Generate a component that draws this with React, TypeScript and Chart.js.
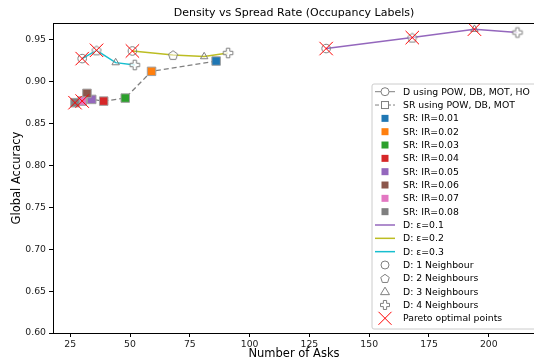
import React, { useEffect, useRef } from 'react';
import { Chart, registerables } from 'chart.js';
Chart.register(...registerables);

// ---- data ----
const titleText = 'Density vs Spread Rate (Occupancy Labels)';
const xLabel = 'Number of Asks';
const yLabel = 'Global Accuracy';

const xTicks = [25, 50, 75, 100, 125, 150, 175, 200];
const yTicks = [0.6, 0.65, 0.7, 0.75, 0.8, 0.85, 0.9, 0.95];

const epsLabels = ['D: ε=0.1', 'D: ε=0.2', 'D: ε=0.3'];
const epsColors = ['#9467bd', '#bcbd22', '#17becf'];
const neighbourLabels = ['D: 1 Neighbour', 'D: 2 Neighbours', 'D: 3 Neighbours', 'D: 4 Neighbours'];

const dEps01Asks = [132, 168, 194, 212];
const dEps01Acc = [0.9395, 0.9526, 0.9626, 0.9586];
const dEps02Asks = [51, 68, 81, 91];
const dEps02Acc = [0.9366, 0.9318, 0.9299, 0.9342];
const dEps03Asks = [30, 36, 44, 52];
const dEps03Acc = [0.9275, 0.9374, 0.9227, 0.9199];

const srLabels = ['SR: IR=0.01', 'SR: IR=0.02', 'SR: IR=0.03', 'SR: IR=0.04', 'SR: IR=0.05', 'SR: IR=0.06', 'SR: IR=0.07', 'SR: IR=0.08'];
const srColors = ['#1f77b4', '#ff7f0e', '#2ca02c', '#d62728', '#9467bd', '#8c564b', '#e377c2', '#7f7f7f'];
const srAsks = [86, 59, 48, 39, 34, 32, 30, 27];
const srAcc = [0.9246, 0.9123, 0.8804, 0.8768, 0.8788, 0.886, 0.8768, 0.8749];

const paretoAsks = [30, 36, 51, 132, 168, 194, 27, 30];
const paretoAcc = [0.9275, 0.9374, 0.9366, 0.9395, 0.9526, 0.9626, 0.8749, 0.8768];

const dLabel = 'D using POW, DB, MOT, HO';
const srLabel = 'SR using POW, DB, MOT';
const paretoLabel = 'Pareto optimal points';

const GRAY = '#808080';
const FONT = '"DejaVu Sans", sans-serif';

function drawPentagon(ctx: CanvasRenderingContext2D, cx: number, cy: number, r: number) {
  ctx.save();
  ctx.beginPath();
  for (let i = 0; i < 5; i++) {
    const a = -Math.PI / 2 + (i * 2 * Math.PI) / 5;
    const x = cx + r * Math.cos(a), y = cy + r * Math.sin(a);
    if (i === 0) ctx.moveTo(x, y); else ctx.lineTo(x, y);
  }
  ctx.closePath();
  ctx.fillStyle = 'rgba(255,255,255,0.5)';
  ctx.fill();
  ctx.strokeStyle = GRAY; ctx.lineWidth = 1;
  ctx.stroke();
  ctx.restore();
}
function makePentagon(r: number) {
  const size = Math.ceil(2 * r + 4);
  const c = document.createElement('canvas');
  c.width = size; c.height = size;
  drawPentagon(c.getContext('2d')!, size / 2, size / 2 + r * 0.1, r);
  return c;
}
function drawPlus(ctx: CanvasRenderingContext2D, cx: number, cy: number, r: number) {
  const w = r * 0.36;
  const pts = [[-w, -r], [w, -r], [w, -w], [r, -w], [r, w], [w, w], [w, r], [-w, r], [-w, w], [-r, w], [-r, -w], [-w, -w]];
  ctx.save();
  ctx.beginPath();
  pts.forEach(([x, y], i) => (i === 0 ? ctx.moveTo(cx + x, cy + y) : ctx.lineTo(cx + x, cy + y)));
  ctx.closePath();
  ctx.fillStyle = 'rgba(255,255,255,0.8)';
  ctx.fill();
  ctx.strokeStyle = GRAY; ctx.lineWidth = 1;
  ctx.stroke();
  ctx.restore();
}
function makePlus(r: number) {
  const size = Math.ceil(2 * r + 4);
  const c = document.createElement('canvas');
  c.width = size; c.height = size;
  drawPlus(c.getContext('2d')!, size / 2, size / 2, r);
  return c;
}

const extrasPlugin = {
  id: 'extras',
  afterDraw(chart: any) {
    const { ctx, chartArea } = chart;
    ctx.save();
    // top spine
    ctx.strokeStyle = '#000'; ctx.lineWidth = 1;
    ctx.beginPath();
    ctx.moveTo(chartArea.left, chartArea.top + 0.5);
    ctx.lineTo(chartArea.right, chartArea.top + 0.5);
    ctx.stroke();
    // title & axis titles
    ctx.fillStyle = '#000';
    ctx.textAlign = 'center'; ctx.textBaseline = 'middle';
    ctx.font = `11px ${FONT}`;
    ctx.fillText(titleText, 294, 13);
    ctx.font = `11.5px ${FONT}`;
    ctx.fillText(xLabel, 294, 354);
    ctx.save();
    ctx.translate(17, 178);
    ctx.rotate(-Math.PI / 2);
    ctx.fillText(yLabel, 0, 0);
    ctx.restore();

    // legend
    const lx = 372, ly = 84, lw = 170, lh = 245;
    ctx.beginPath();
    const rr = 2;
    ctx.moveTo(lx + rr, ly);
    ctx.lineTo(lx + lw, ly);
    ctx.lineTo(lx + lw, ly + lh);
    ctx.lineTo(lx + rr, ly + lh);
    ctx.arcTo(lx, ly + lh, lx, ly + lh - rr, rr);
    ctx.lineTo(lx, ly + rr);
    ctx.arcTo(lx, ly, lx + rr, ly, rr);
    ctx.closePath();
    ctx.fillStyle = 'rgba(255,255,255,0.85)';
    ctx.fill();
    ctx.strokeStyle = '#cccccc'; ctx.lineWidth = 1;
    ctx.stroke();

    const labels = [dLabel, srLabel, ...srLabels, ...epsLabels, ...neighbourLabels, paretoLabel];
    const y0 = 91.7, dy = 13.33;
    const hx0 = 375, hx1 = 395, hc = 385;
    ctx.textAlign = 'left'; ctx.textBaseline = 'middle';
    labels.forEach((lab, i) => {
      const y = y0 + i * dy;
      ctx.save();
      if (i === 0) {
        ctx.strokeStyle = GRAY; ctx.lineWidth = 1;
        ctx.beginPath(); ctx.moveTo(hx0, y); ctx.lineTo(hx1, y); ctx.stroke();
        ctx.beginPath(); ctx.arc(hc, y, 4, 0, Math.PI * 2);
        ctx.fillStyle = '#fff'; ctx.fill(); ctx.stroke();
      } else if (i === 1) {
        ctx.strokeStyle = GRAY; ctx.lineWidth = 1;
        ctx.setLineDash([4, 2]);
        ctx.beginPath(); ctx.moveTo(hx0, y); ctx.lineTo(hx1, y); ctx.stroke();
        ctx.setLineDash([]);
        ctx.fillStyle = '#fff';
        ctx.fillRect(hc - 4, y - 4, 8, 8);
        ctx.strokeRect(hc - 4 + 0.5, y - 4 + 0.5, 7, 7);
      } else if (i < 10) {
        ctx.fillStyle = srColors[i - 2];
        ctx.fillRect(hc - 3.5, y - 3.5, 7, 7);
      } else if (i < 13) {
        ctx.strokeStyle = epsColors[i - 10]; ctx.lineWidth = 1.5;
        ctx.beginPath(); ctx.moveTo(hx0, y); ctx.lineTo(hx1, y); ctx.stroke();
      } else if (i === 13) {
        ctx.strokeStyle = GRAY; ctx.lineWidth = 1;
        ctx.beginPath(); ctx.arc(hc, y, 4, 0, Math.PI * 2); ctx.stroke();
      } else if (i === 14) {
        drawPentagon(ctx, hc, y + 0.5, 4.5);
      } else if (i === 15) {
        ctx.strokeStyle = GRAY; ctx.lineWidth = 1;
        ctx.beginPath();
        ctx.moveTo(hc, y - 4.5); ctx.lineTo(hc + 4.5, y + 3); ctx.lineTo(hc - 4.5, y + 3); ctx.closePath();
        ctx.stroke();
      } else if (i === 16) {
        drawPlus(ctx, hc, y, 4.5);
      } else {
        ctx.strokeStyle = 'red'; ctx.lineWidth = 1;
        ctx.beginPath();
        ctx.moveTo(hc - 6.5, y - 6.5); ctx.lineTo(hc + 6.5, y + 6.5);
        ctx.moveTo(hc + 6.5, y - 6.5); ctx.lineTo(hc - 6.5, y + 6.5);
        ctx.stroke();
      }
      ctx.restore();
      ctx.fillStyle = '#000';
      ctx.font = `9.3px ${FONT}`;
      ctx.fillText(lab, 403, y + 0.5);
    });
    ctx.restore();
  },
};

export default function App() {
  const ref = useRef<HTMLCanvasElement>(null);
  useEffect(() => {
    document.body.style.margin = '0';
    const pent = makePentagon(4.8);
    const plus = makePlus(4.8);
    const dStyles = ['circle', pent, 'triangle', plus];
    const toPts = (xs: number[], ys: number[]) => xs.map((x, i) => ({ x, y: ys[i] }));
    const dSets = [
      [dEps01Asks, dEps01Acc],
      [dEps02Asks, dEps02Acc],
      [dEps03Asks, dEps03Acc],
    ].map(([xs, ys], k) => ({
      label: epsLabels[k],
      data: toPts(xs, ys),
      showLine: true,
      borderColor: epsColors[k],
      borderWidth: 1.5,
      pointStyle: dStyles,
      pointRadius: 4.3,
      pointBorderColor: GRAY,
      pointBackgroundColor: 'rgba(255,255,255,0)',
      pointBorderWidth: 1,
      order: 3,
    }));
    const chart = new Chart(ref.current!, {
      type: 'scatter',
      data: {
        datasets: [
          ...dSets,
          {
            label: srLabel,
            data: toPts(srAsks, srAcc),
            showLine: true,
            borderColor: GRAY,
            borderWidth: 1.3,
            borderDash: [5, 3],
            pointStyle: 'rect',
            pointRadius: 6,
            pointBackgroundColor: srColors,
            pointBorderColor: '#a0a0a0',
            pointBorderWidth: 1,
            order: 2,
          },
          {
            label: paretoLabel,
            data: toPts(paretoAsks, paretoAcc),
            showLine: false,
            pointStyle: 'crossRot',
            pointRadius: 9.5,
            pointBorderColor: '#ff0000',
            pointBorderWidth: 1,
            order: 0,
          },
        ] as any,
      },
      options: {
        animation: false,
        responsive: false,
        events: [],
        layout: { padding: { top: 23, left: 0, right: 0, bottom: 0 }, autoPadding: false },
        plugins: { legend: { display: false }, tooltip: { enabled: false }, title: { display: false } },
        scales: {
          x: {
            type: 'linear',
            min: 17.8,
            max: 218.9,
            afterBuildTicks: (s: any) => { s.ticks = xTicks.map((v) => ({ value: v })); },
            afterFit: (s: any) => { s.height = 30; },
            grid: { display: true, drawOnChartArea: false, drawTicks: true, tickLength: 4, tickColor: '#000', tickWidth: 1 },
            border: { display: true, color: '#000', width: 1 },
            ticks: { color: '#222', font: { family: FONT, size: 9.3 }, padding: 2, maxRotation: 0, autoSkip: false, callback: (v: any) => String(v) },
          },
          y: {
            type: 'linear',
            min: 0.6,
            max: 0.97,
            afterBuildTicks: (s: any) => { s.ticks = yTicks.map((v) => ({ value: v })); },
            afterFit: (s: any) => { s.width = 53; },
            grid: { display: true, drawOnChartArea: false, drawTicks: true, tickLength: 4, tickColor: '#000', tickWidth: 1 },
            border: { display: true, color: '#000', width: 1 },
            ticks: { color: '#222', font: { family: FONT, size: 9.3 }, padding: 3, autoSkip: false, callback: (v: any) => Number(v).toFixed(2) },
          },
        },
      } as any,
      plugins: [extrasPlugin],
    });
    return () => chart.destroy();
  }, []);
  return (
    <div style={{ position: 'absolute', left: 0, top: 0, width: 534, height: 363, background: '#fff' }}>
      <canvas ref={ref} width={534} height={363} style={{ display: 'block' }} />
    </div>
  );
}
